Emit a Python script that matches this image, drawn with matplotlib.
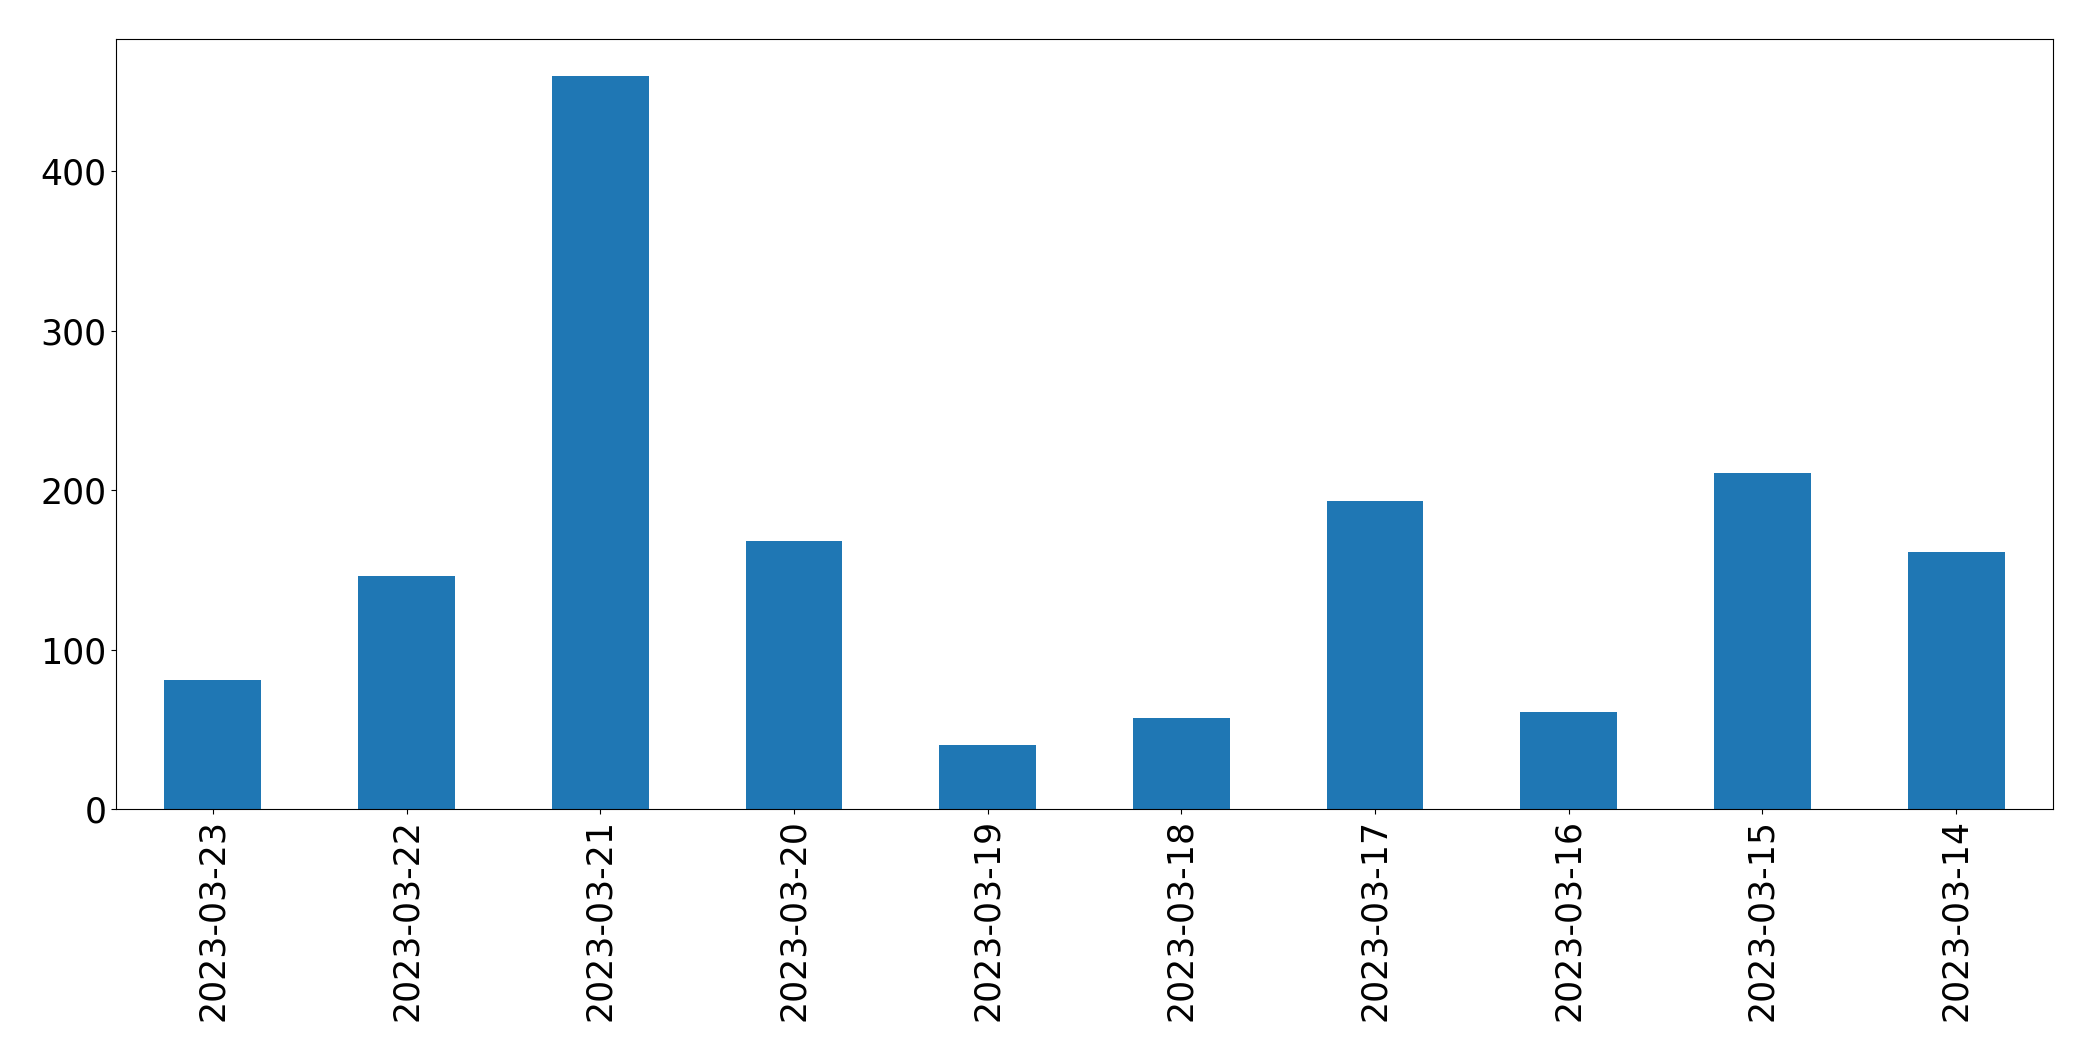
import matplotlib
matplotlib.use('Agg')
import matplotlib.pyplot as plt
import numpy as np

dates = ['2023-03-23', '2023-03-22', '2023-03-21', '2023-03-20', '2023-03-19',
         '2023-03-18', '2023-03-17', '2023-03-16', '2023-03-15', '2023-03-14']
counts = [81, 146, 460, 168, 40, 57, 193, 61, 211, 161]

fig = plt.figure(figsize=(20.93, 10.61), dpi=100)
ax = fig.add_axes([116 / 2093, 1 - 809 / 1061, (2053 - 116) / 2093, (809 - 39) / 1061])

x = np.arange(len(dates))
ax.bar(x, counts, width=0.5, color='#1f77b4')
ax.set_xlim(-0.5, len(dates) - 0.5)
ax.set_xticks(x)
ax.set_xticklabels(dates, rotation=90)
ax.tick_params(axis='both', labelsize=25)

fig.savefig('out.png', dpi=100)
